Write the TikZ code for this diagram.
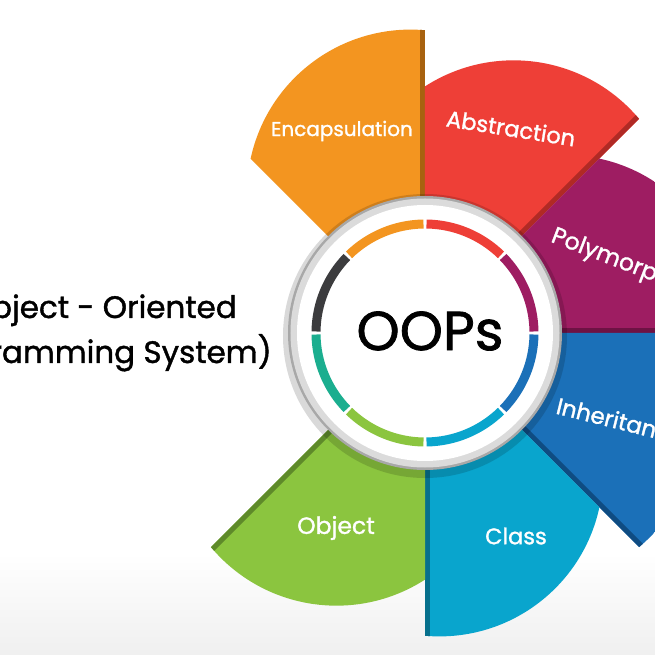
\documentclass[tikz,border=0pt]{standalone}
\usepackage{fontspec}
\setmainfont{Poppins}[RawFeature={embolden=1.3}]
\definecolor{cOrange}{HTML}{F39520}
\definecolor{cOrangeD}{HTML}{A8620F}
\definecolor{cRed}{HTML}{EE3F37}
\definecolor{cRedD}{HTML}{B02A25}
\definecolor{cPurple}{HTML}{9E1D62}
\definecolor{cPurpleD}{HTML}{6E1244}
\definecolor{cBlue}{HTML}{1B70B8}
\definecolor{cBlueD}{HTML}{0F4C82}
\definecolor{cCyan}{HTML}{09A5CD}
\definecolor{cCyanD}{HTML}{06708C}
\definecolor{cGreen}{HTML}{8BC53F}
\definecolor{cGreenD}{HTML}{5E8A2A}
\definecolor{cTeal}{HTML}{1BAE8F}
\definecolor{cDark}{HTML}{3C3C3E}
\begin{document}
\begin{tikzpicture}[x=1pt,y=1pt,
  every node/.style={inner sep=0pt},
  petal/.pic={
    \begin{scope}
      \clip (0,0) -- ([shift={(-14.4,139.7)}]85:163.7)
        arc[start angle=85,end angle=167.8,radius=163.7] -- cycle;
      \fill[#1] (-330,-20) rectangle (330,330);
      \draw[#1D, line width=10] (0,0) -- (0,330);
    \end{scope}
  },
  plabel/.style={text=white, font=\fontsize{21}{25}\selectfont},
  seg/.style={line width=9}
]
\useasboundingbox (-425,-322) rectangle (230,333);
\clip (-425,-322) rectangle (230,333);
\fill[white] (-425,-322) rectangle (230,333);
% faint floor shading
\shade[top color=white, bottom color=black!6] (-425,-322) rectangle (230,-220);

% petals (pinwheel)
\pic[rotate=0]    {petal=cOrange};
\pic[rotate=-45]  {petal=cRed};
\pic[rotate=-90]  {petal=cPurple};
\pic[rotate=-135] {petal=cBlue};
\pic[rotate=180]  {petal=cCyan};
\pic[rotate=135]  {petal=cGreen};

% central disc
\fill[black, opacity=0.15] (0,-3) circle (142);
\fill[black!34] (0,0) circle (137);
\fill[black!14] (0,0) circle (134.5);
\fill[white] (0,0) circle (128);

% coloured ring
\foreach \a/\c in {45/cRed, 0/cPurple, -45/cBlue, -90/cCyan, -135/cGreen, 180/cTeal, 135/cDark, 90/cOrange}{
  \draw[seg, \c] (\a+0.8:109) arc[start angle=\a+0.8, end angle=\a+44.2, radius=109];
}

\node (oops) at (5,2) {\fontsize{55}{64}\selectfont OOPs};

% petal labels
\node[plabel, font=\fontsize{20}{24}\selectfont] (enc) at (-83,202) {Encapsulation};
\node[plabel, font=\fontsize{22.5}{26}\selectfont, rotate=-9] (abs) at (86,205) {Abstraction};
\node[plabel, font=\fontsize{23.5}{27}\selectfont, rotate=-21, anchor=west] (poly) at (127,97) {Polymorphism};
\node[plabel, font=\fontsize{23}{27}\selectfont, rotate=-14, anchor=west] (inh) at (132,-72) {Inheritance};
\node[plabel, font=\fontsize{22.5}{26}\selectfont] (cls) at (91,-203) {Class};
\node[plabel, font=\fontsize{23.5}{27}\selectfont] (obj) at (-89,-195) {Object};

% left caption
\node[anchor=base east, font=\fontsize{31}{36}\selectfont] (cap1) at (-188,15) {(Object - Oriented};
\node[anchor=base east, font=\fontsize{31}{36}\selectfont] (cap2) at (-153,-30) {Programming System)};
\end{tikzpicture}
\end{document}
